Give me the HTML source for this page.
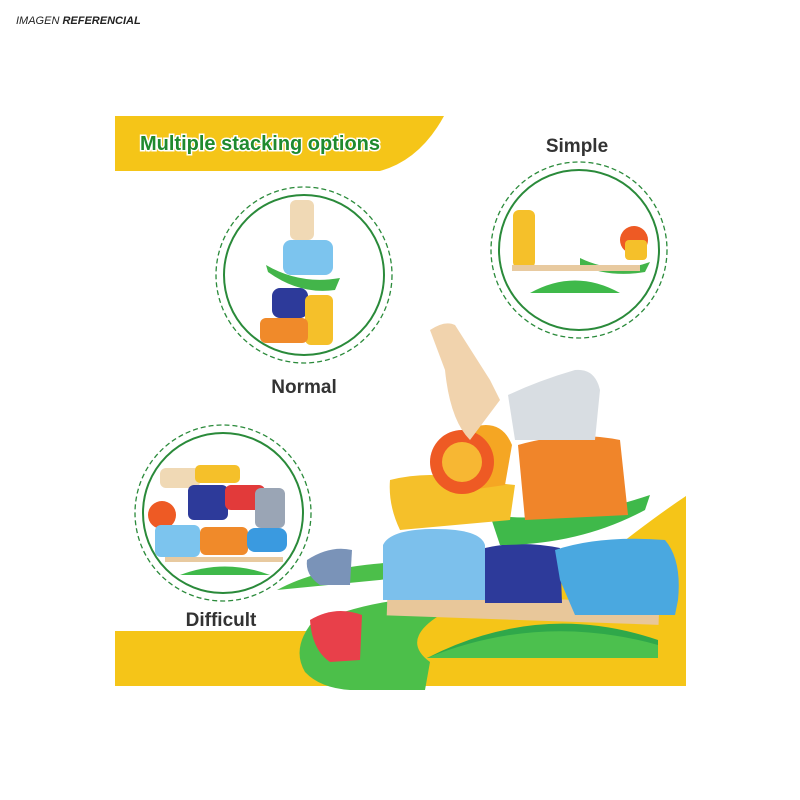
<!DOCTYPE html>
<html><head><meta charset="utf-8"><style>
html,body{margin:0;padding:0;background:#fff;width:800px;height:800px;overflow:hidden}
svg{display:block}
</style></head><body>
<svg width="800" height="800" viewBox="0 0 800 800" xmlns="http://www.w3.org/2000/svg" font-family="Liberation Sans, sans-serif">
<text x="16" y="24" font-size="11" font-style="italic" fill="#222">IMAGEN <tspan font-weight="bold">REFERENCIAL</tspan></text>
<path d="M115 116 H444 Q420 160 380 171 H115 Z" fill="#f5c518"/>
<text x="140" y="150" font-size="20" font-weight="bold" fill="#1f8a2e" stroke="#fff" stroke-width="3" paint-order="stroke">Multiple stacking options</text>
<path d="M686 496 V686 H115 V631 H330 Q500 610 600 560 Q650 520 686 496 Z" fill="#f5c518"/>
<path d="M277 590 Q320 566 400 562 L420 598 Q360 602 310 625 Q292 650 305 672 Q320 688 350 690 L425 690 L430 662 Q400 640 440 615 L430 575 Z" fill="#4cbf4a"/>
<g fill="none" stroke="#2a8a3a">
<circle cx="304" cy="275" r="80" stroke-width="2"/>
<circle cx="304" cy="275" r="88" stroke-width="1.3" stroke-dasharray="5 3"/>
<circle cx="579" cy="250" r="80" stroke-width="2"/>
<circle cx="579" cy="250" r="88" stroke-width="1.3" stroke-dasharray="5 3"/>
<circle cx="223" cy="513" r="80" stroke-width="2"/>
<circle cx="223" cy="513" r="88" stroke-width="1.3" stroke-dasharray="5 3"/>
</g>
<g font-size="19" font-weight="bold" fill="#333" text-anchor="middle">
<text x="577" y="152">Simple</text>
<text x="304" y="393">Normal</text>
<text x="221" y="626">Difficult</text>
</g>
<rect x="290" y="200" width="24" height="40" rx="6" fill="#f0d9b5"/>
<rect x="283" y="240" width="50" height="35" rx="8" fill="#7cc4ee"/>
<path d="M266 265 Q300 285 340 278 L335 290 Q300 295 268 272 Z" fill="#43b54a"/>
<rect x="272" y="288" width="36" height="30" rx="8" fill="#2d3a9a"/>
<rect x="305" y="295" width="28" height="50" rx="6" fill="#f5c02a"/>
<rect x="260" y="318" width="48" height="25" rx="6" fill="#f08a2a"/>
<rect x="513" y="210" width="22" height="58" rx="6" fill="#f5c02a"/>
<circle cx="634" cy="240" r="14" fill="#ee5a24"/>
<rect x="625" y="240" width="22" height="20" rx="4" fill="#f5c02a"/>
<path d="M580 258 Q615 275 650 262 L645 272 Q610 278 580 265 Z" fill="#43b54a"/>
<rect x="512" y="265" width="128" height="6" fill="#e8caa0"/>
<path d="M530 293 Q575 268 620 293 Z" fill="#3fb94a"/>
<rect x="160" y="468" width="40" height="20" rx="6" fill="#f0d9b5"/>
<rect x="195" y="465" width="45" height="18" rx="5" fill="#f5c02a"/>
<rect x="188" y="485" width="40" height="35" rx="6" fill="#2d3a9a"/>
<rect x="225" y="485" width="40" height="25" rx="6" fill="#e23a3a"/>
<rect x="255" y="488" width="30" height="40" rx="6" fill="#9aa5b5"/>
<circle cx="162" cy="515" r="14" fill="#ee5a24"/>
<rect x="155" y="525" width="45" height="32" rx="6" fill="#7cc4ee"/>
<rect x="200" y="527" width="48" height="28" rx="6" fill="#f08a2a"/>
<rect x="247" y="528" width="40" height="24" rx="8" fill="#3a9ae0"/>
<rect x="165" y="557" width="118" height="5" fill="#e8caa0"/>
<path d="M180 575 Q225 558 270 575 Z" fill="#3fb94a"/>
<path d="M427 658 Q540 600 658 640 V658 Z" fill="#2fa84a"/>
<path d="M427 658 Q540 612 658 645 L658 658 Z" fill="#4cc04e"/>
<rect x="387" y="598" width="272" height="22" fill="#e8c79a" transform="rotate(2 520 610)"/>
<path d="M383 545 Q390 530 430 529 Q480 528 485 545 L485 600 L383 600 Z" fill="#7cc0ec"/>
<path d="M485 548 Q520 540 560 548 L562 603 L485 603 Z" fill="#2d3a9a"/>
<path d="M555 550 Q600 535 665 540 Q682 560 678 600 L675 615 L575 615 L560 580 Z" fill="#4aa8e0"/>
<path d="M490 515 Q560 525 650 495 L645 510 Q580 545 500 545 Z" fill="#3fb94a"/>
<path d="M390 480 Q430 470 470 480 L515 485 L510 520 L400 530 Q388 505 390 480 Z" fill="#f5c02a"/>
<path d="M465 430 Q500 415 512 445 L505 485 L470 490 Z" fill="#f5a623"/>
<circle cx="462" cy="462" r="32" fill="#ee5a24"/>
<circle cx="462" cy="462" r="20" fill="#f7b733"/>
<path d="M518 445 Q570 430 620 440 L628 515 L525 520 Z" fill="#f0852a"/>
<path d="M508 395 Q540 380 575 370 Q595 368 600 390 L595 440 L515 440 Z" fill="#d8dde2"/>
<path d="M430 330 Q445 320 455 325 L490 380 L500 400 L470 440 Q450 420 445 370 Z" fill="#f1d3ad"/>
<path d="M307 560 Q330 545 352 550 L350 585 L320 585 Q305 575 307 560 Z" fill="#7a93b8"/>
<path d="M310 620 Q335 605 362 615 L360 660 L330 662 Q312 650 310 620 Z" fill="#e8404a"/>
</svg>
</body></html>
